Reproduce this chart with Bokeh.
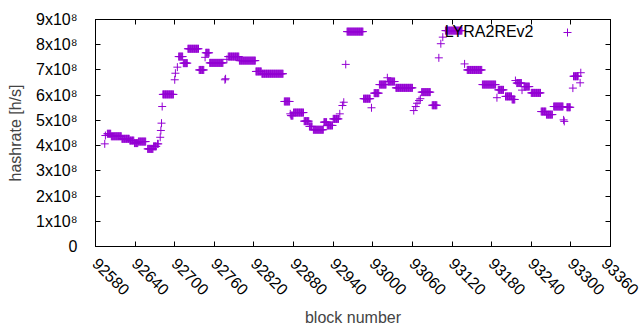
import numpy as np
from bokeh.plotting import figure
from bokeh.models import (ColumnDataSource, Range1d, FixedTicker, LinearAxis,
                          Label, Legend, LegendItem)
from bokeh.embed import file_html
from bokeh.resources import INLINE

# ---- data: runs of blocks with (roughly) constant estimated hashrate [h/s]
run_start = [92594, 92595, 92598, 92604, 92620, 92632, 92639, 92645, 92659, 92668,
             92674, 92678, 92679, 92680, 92681, 92682, 92700, 92701, 92704, 92706,
             92713, 92720, 92737, 92746, 92747, 92753, 92776, 92777, 92779, 92781,
             92798, 92823, 92832, 92866, 92875, 92876, 92880, 92896, 92904, 92910,
             92926, 92931, 92940, 92950, 92954, 92956, 92959, 92961, 92986, 92998,
             93002, 93010, 93022, 93023, 93035, 93062, 93065, 93067, 93070, 93072,
             93074, 93090, 93100, 93103, 93106, 93110, 93139, 93143, 93166, 93188,
             93190, 93201, 93211, 93216, 93218, 93226, 93229, 93240, 93255, 93263,
             93274, 93289, 93290, 93294, 93303, 93304, 93314, 93315]
run_end = [92594, 92595, 92603, 92619, 92631, 92638, 92644, 92656, 92667, 92672,
           92675, 92678, 92679, 92680, 92681, 92698, 92700, 92701, 92704, 92712,
           92719, 92736, 92744, 92746, 92752, 92773, 92776, 92777, 92779, 92797,
           92822, 92831, 92864, 92874, 92875, 92879, 92895, 92903, 92908, 92925,
           92930, 92939, 92948, 92950, 92954, 92956, 92959, 92985, 92996, 92998,
           93009, 93020, 93022, 93033, 93060, 93062, 93065, 93067, 93070, 93072,
           93087, 93097, 93100, 93103, 93106, 93135, 93139, 93165, 93186, 93188,
           93198, 93210, 93215, 93216, 93225, 93226, 93237, 93254, 93262, 93272,
           93288, 93289, 93290, 93299, 93303, 93311, 93314, 93315]
run_hashrate = [4.07e8, 4.40e8, 4.47e8, 4.37e8, 4.27e8, 4.20e8, 4.10e8, 4.16e8, 3.87e8, 3.97e8,
                4.07e8, 4.33e8, 4.60e8, 4.89e8, 5.55e8, 6.03e8, 6.61e8, 6.87e8, 7.11e8, 7.53e8,
                7.27e8, 7.84e8, 7.00e8, 7.50e8, 7.68e8, 7.28e8, 6.61e8, 6.65e8, 7.42e8, 7.53e8,
                7.37e8, 6.94e8, 6.85e8, 5.75e8, 5.26e8, 5.19e8, 5.31e8, 4.97e8, 4.76e8, 4.63e8,
                4.93e8, 4.80e8, 5.06e8, 5.26e8, 5.59e8, 5.72e8, 7.22e8, 8.52e8, 5.86e8, 5.50e8,
                6.08e8, 6.42e8, 6.69e8, 6.54e8, 6.29e8, 5.39e8, 5.55e8, 5.68e8, 5.79e8, 5.86e8,
                6.12e8, 5.60e8, 7.48e8, 8.04e8, 8.30e8, 8.56e8, 7.24e8, 7.00e8, 6.42e8, 5.90e8,
                6.21e8, 5.95e8, 5.83e8, 6.58e8, 6.48e8, 6.20e8, 6.34e8, 6.09e8, 5.35e8, 5.23e8,
                5.55e8, 5.02e8, 4.96e8, 5.52e8, 6.28e8, 6.75e8, 6.49e8, 6.89e8]

x_ticks = [92580, 92640, 92700, 92760, 92820, 92880, 92940, 93000, 93060,
           93120, 93180, 93240, 93300, 93360]
y_ticks = [0, 1e8, 2e8, 3e8, 4e8, 5e8, 6e8, 7e8, 8e8, 9e8]
y_tick_labels = ["0", "1x10\u2078", "2x10\u2078", "3x10\u2078", "4x10\u2078",
                 "5x10\u2078", "6x10\u2078", "7x10\u2078", "8x10\u2078", "9x10\u2078"]
series_name = "LYRA2REv2"

# one point per block inside each run (value repeated, no interpolation)
blocks = np.concatenate([np.arange(s, e + 1) for s, e in zip(run_start, run_end)])
rates = np.concatenate([np.full(e - s + 1, v) for s, e, v in zip(run_start, run_end, run_hashrate)])
src = ColumnDataSource(dict(x=blocks, y=rates))

FONT = "Liberation Sans"
COLOR = "#9400D3"

p = figure(width=640, height=330, output_backend="svg", toolbar_location=None,
           x_range=Range1d(92580, 93360), y_range=Range1d(0, 9e8),
           min_border_left=95, min_border_right=30, min_border_top=19,
           min_border_bottom=84)
p.background_fill_color = "white"
p.border_fill_color = "white"
p.outline_line_color = "black"
p.outline_line_width = 1
p.xgrid.visible = False
p.ygrid.visible = False

r = p.scatter("x", "y", source=src, marker="cross", size=8,
              line_color=COLOR, line_width=1)

# bottom axis
xa = p.xaxis[0]
xa.ticker = FixedTicker(ticks=x_ticks)
xa.major_label_overrides = {t: str(t) for t in x_ticks}
xa.major_label_orientation = -np.pi / 4
xa.major_tick_in = 5
xa.major_tick_out = 0
xa.minor_tick_line_color = None
xa.major_label_standoff = 14
xa.major_label_text_font = FONT
xa.major_label_text_font_size = "16px"
xa.major_label_text_color = "black"
xa.axis_label = "block number"
xa.axis_label_text_font = FONT
xa.axis_label_text_font_size = "16px"
xa.axis_label_text_font_style = "normal"
xa.axis_label_standoff = 6
xa.axis_line_color = "black"

# left axis
ya = p.yaxis[0]
ya.ticker = FixedTicker(ticks=y_ticks)
ya.major_label_overrides = {t: lab for t, lab in zip(y_ticks, y_tick_labels)}
ya.major_tick_in = 5
ya.major_tick_out = 0
ya.minor_tick_line_color = None
ya.major_label_standoff = 18
ya.major_label_text_font = FONT
ya.major_label_text_font_size = "16px"
ya.major_label_text_color = "black"
ya.axis_label = "hashrate [h/s]"
ya.axis_label_text_font = FONT
ya.axis_label_text_font_size = "16px"
ya.axis_label_text_font_style = "normal"
ya.axis_label_standoff = 9
ya.axis_line_color = "black"

# mirrored ticks on top and right (no labels)
top = LinearAxis(ticker=FixedTicker(ticks=x_ticks), major_tick_in=5, major_tick_out=0,
                 minor_tick_line_color=None, major_label_text_font_size="1px",
                 major_label_text_color=None, major_label_standoff=0)
right = LinearAxis(ticker=FixedTicker(ticks=y_ticks), major_tick_in=5, major_tick_out=0,
                   minor_tick_line_color=None, major_label_text_font_size="1px",
                   major_label_text_color=None, major_label_standoff=0)
p.add_layout(top, "above")
p.add_layout(right, "right")

# key: text followed by the point sample (gnuplot style)
p.add_layout(Label(x=438, y=215, x_units="screen", y_units="screen", text=series_name,
                   text_align="right", text_baseline="middle", text_font=FONT,
                   text_font_size="16px", text_color="black"))
legend = Legend(items=[LegendItem(label=" ", renderers=[r])], location=(462, 204),
                glyph_width=20, glyph_height=20, padding=0, margin=0, spacing=0,
                label_width=0, label_height=20, label_standoff=0,
                label_text_font_size="1px", border_line_alpha=0,
                background_fill_alpha=0)
p.add_layout(legend)

open("out.html", "w").write(file_html(p, INLINE))
